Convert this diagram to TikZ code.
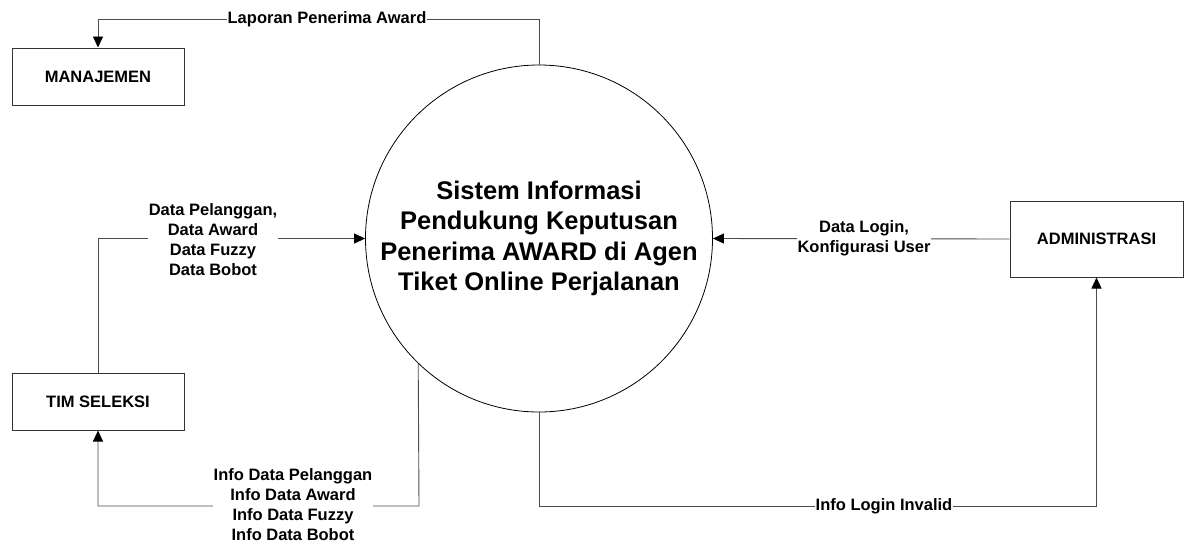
\documentclass[tikz,border=0pt]{standalone}
\usepackage{fontspec}
\setmainfont{Liberation Sans}
\usetikzlibrary{arrows.meta}
\begin{document}
\begin{tikzpicture}[x=1pt,y=-1pt,
  entity/.style={draw=black!80,line width=1pt,rectangle,inner sep=0pt,
    font=\fontsize{16.5}{20}\selectfont\bfseries},
  proc/.style={draw=black,line width=0.8pt,circle,inner sep=0pt,minimum size=347pt,
    align=center,font=\fontsize{25.5}{30.5}\selectfont\bfseries},
  flow/.style={draw=black!70,line width=0.9pt,-{Triangle[length=11pt,width=10pt,black]}},
  lbl/.style={fill=white,inner sep=0.5pt,align=center,
    font=\fontsize{16.5}{20}\selectfont\bfseries}]
\useasboundingbox (0,0) rectangle (1188,544);
\node[proc] (proc) at (539,238.5) {Sistem Informasi\\Pendukung Keputusan\\Penerima AWARD di Agen\\Tiket Online Perjalanan};
\node[entity,minimum width=172pt,minimum height=57pt] (man) at (98,76.5) {MANAJEMEN};
\node[entity,minimum width=172pt,minimum height=57pt] (tim) at (98,401.5) {TIM SELEKSI};
\node[entity,minimum width=173pt,minimum height=76pt] (adm) at (1096.5,239) {ADMINISTRASI};
\coordinate (lapTop) at (539,19);
\coordinate (infoBot) at (419,506);
\coordinate (loginBot) at (539,506);
% Laporan
\draw[flow] (proc.north) -- (lapTop) -| (man.north);
\node[lbl] (lLap) at (327,19) {Laporan Penerima Award};
% Data Pelanggan
\draw[flow] (tim.north) |- (proc.west);
\node[lbl] (lData) at (213,239.5) {Data Pelanggan,\\Data Award\\Data Fuzzy\\Data Bobot};
% Data Login
\draw[flow] (adm.west) -- (proc.east);
\node[lbl] (lLogin) at (864,238) {Data Login,\\Konfigurasi User};
% Info Data
\draw[flow] (proc.226.2) -- (infoBot) -| (tim.south);
\node[lbl] (lInfo) at (293,505) {Info Data Pelanggan\\Info Data Award\\Info Data Fuzzy\\Info Data Bobot};
% Info Login Invalid
\draw[flow] (proc.south) -- (loginBot) -| (adm.south);
\node[lbl] (lInv) at (884,506) {Info Login Invalid};
\end{tikzpicture}
\end{document}
